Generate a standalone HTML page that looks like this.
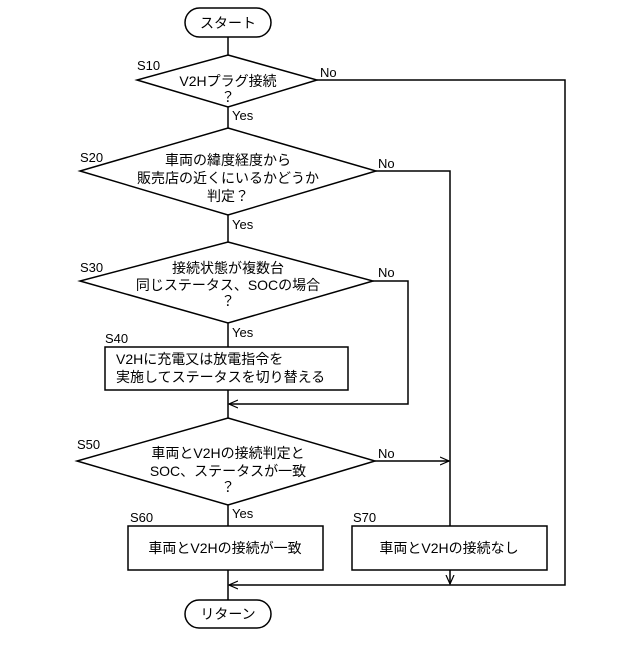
<!DOCTYPE html>
<html><head><meta charset="utf-8"><style>body{margin:0;background:#fff}</style></head><body>
<svg width="640" height="640" viewBox="0 0 640 640" xmlns="http://www.w3.org/2000/svg" font-family="Liberation Sans, Noto Sans CJK JP, sans-serif" font-size="14" fill="none" stroke="#000" stroke-width="1.5">
<defs><marker id="a" markerWidth="10" markerHeight="10" refX="9" refY="5" orient="auto" markerUnits="userSpaceOnUse"><path d="M0,1 L9,5 L0,9" stroke="#000" stroke-width="1.2" fill="none"/></marker></defs>
<rect x="185" y="8" width="86" height="29" rx="14.5" fill="#fff"/>
<rect x="185" y="600" width="86" height="28" rx="14" fill="#fff"/>
<path d="M228 37V55 M228 107V128 M228 215V242 M228 323V347 M228 390V418 M228 505V526 M228 570V600"/>
<polygon points="228,55 317,80 228,107 137,80" fill="#fff"/>
<polygon points="228,128 376,171 228,215 80,171" fill="#fff"/>
<polygon points="228,242 373,281 228,323 80,281" fill="#fff"/>
<polygon points="228,418 375,461 228,505 77,461" fill="#fff"/>
<rect x="105" y="347" width="243" height="43"/>
<rect x="128" y="526" width="195" height="44"/>
<rect x="352" y="526" width="195" height="44"/>
<path d="M317 80H565V585H229" marker-end="url(#a)"/>
<path d="M376 171H450V526"/>
<path d="M373 281H408V404H229" marker-end="url(#a)"/>
<path d="M375 461H449" marker-end="url(#a)"/>
<path d="M450 570V584" marker-end="url(#a)"/>
<g fill="#000" stroke="none">
<text x="228" y="28" text-anchor="middle">スタート</text>
<text x="228" y="619" text-anchor="middle">リターン</text>
<text x="228" y="86" text-anchor="middle">V2Hプラグ接続</text>
<text x="228" y="102" text-anchor="middle">？</text>
<text x="228" y="165" text-anchor="middle">車両の緯度経度から</text>
<text x="228" y="183" text-anchor="middle">販売店の近くにいるかどうか</text>
<text x="228" y="201" text-anchor="middle">判定？</text>
<text x="228" y="273" text-anchor="middle">接続状態が複数台</text>
<text x="228" y="290" text-anchor="middle">同じステータス、SOCの場合</text>
<text x="228" y="306" text-anchor="middle">？</text>
<text x="116" y="364">V2Hに充電又は放電指令を</text>
<text x="116" y="382">実施してステータスを切り替える</text>
<text x="228" y="458" text-anchor="middle">車両とV2Hの接続判定と</text>
<text x="228" y="476" text-anchor="middle">SOC、ステータスが一致</text>
<text x="228" y="492" text-anchor="middle">？</text>
<text x="225" y="553" text-anchor="middle">車両とV2Hの接続が一致</text>
<text x="449" y="553" text-anchor="middle">車両とV2Hの接続なし</text>
<g font-size="13">
<text x="137" y="70">S10</text><text x="80" y="162">S20</text><text x="80" y="272">S30</text>
<text x="105" y="343">S40</text><text x="77" y="449">S50</text><text x="130" y="522">S60</text><text x="353" y="522">S70</text>
<text x="232" y="120">Yes</text><text x="232" y="229">Yes</text><text x="232" y="337">Yes</text><text x="232" y="518">Yes</text>
<text x="320" y="77">No</text><text x="378" y="168">No</text><text x="378" y="277">No</text><text x="378" y="458">No</text>
</g></g>
</svg>
</body></html>
